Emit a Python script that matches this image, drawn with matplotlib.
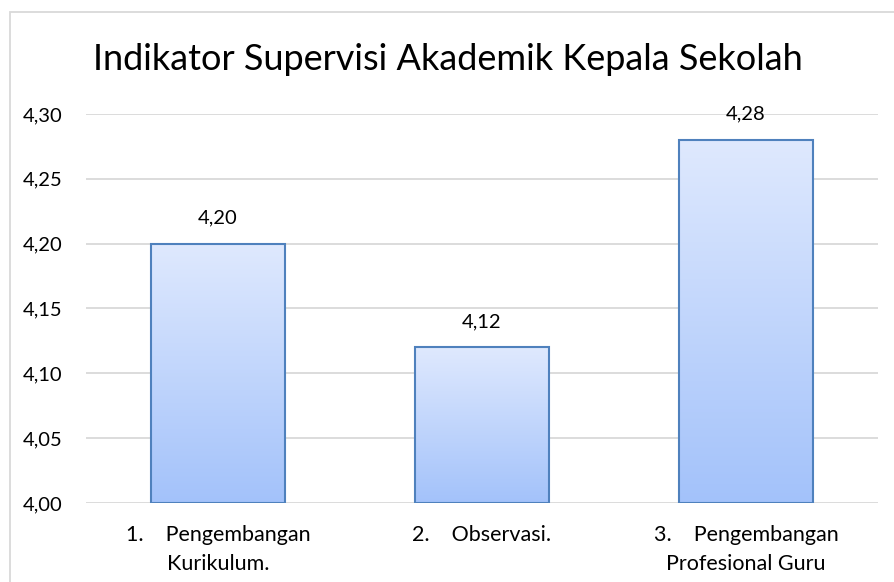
import matplotlib
matplotlib.use("Agg")
import matplotlib.pyplot as plt
import numpy as np
from matplotlib.patches import Rectangle
from matplotlib.colors import LinearSegmentedColormap

plt.rcParams['font.family'] = ['Lato', 'DejaVu Sans']

title = "Indikator Supervisi Akademik Kepala Sekolah"
categories = ["1.    Pengembangan\nKurikulum.", "2.    Observasi.", "3.    Pengembangan\nProfesional Guru"]
values = [4.20, 4.12, 4.28]
yticks = [4.00, 4.05, 4.10, 4.15, 4.20, 4.25, 4.30]

def fmt(v):
    return f"{v:.2f}".replace(".", ",")

fig = plt.figure(figsize=(8.95, 5.82), dpi=100)
ax = fig.add_axes([86/895, 1-503/582, (878-86)/895, (503-114)/582])

ymin, ymax = 4.00, 4.30
ax.set_xlim(-0.5, len(categories)-0.5)
ax.set_ylim(ymin, ymax)

for y in yticks:
    ax.axhline(y, color='#d9d9d9', lw=1.3, zorder=0)

cmap = LinearSegmentedColormap.from_list('g', ['#a3c2fa', '#dfe9fe'])
grad = np.linspace(0, 1, 256).reshape(-1, 1)
w = 0.505
x = np.arange(len(categories))
for xi, v in zip(x, values):
    # soft shadow
    for k, a in [(0.006, 0.10), (0.004, 0.12), (0.002, 0.15)]:
        ax.add_patch(Rectangle((xi - w/2 + k, ymin), w, v - ymin - k*0.35, facecolor='#808080',
                               edgecolor='none', alpha=a, zorder=1))
    ax.imshow(grad, extent=(xi - w/2, xi + w/2, ymin, v), origin='lower', cmap=cmap,
              aspect='auto', zorder=2, interpolation='bicubic')
    ax.add_patch(Rectangle((xi - w/2, ymin), w, v - ymin, facecolor='none',
                           edgecolor='#4f81bd', lw=1.5, zorder=3))
    ax.text(xi, v + 0.020, fmt(v), ha='center', va='center', fontsize=14.5, color='#000000', zorder=4)

ax.set_xlim(-0.5, len(categories)-0.5)
ax.set_ylim(ymin, ymax)
ax.set_yticks(yticks)
ax.set_yticklabels([fmt(t) for t in yticks], fontsize=14.5)
ax.set_xticks(x)
ax.set_xticklabels(categories, fontsize=15.5, linespacing=1.55)
ax.tick_params(axis='both', length=0)
ax.tick_params(axis='y', pad=17)
ax.tick_params(axis='x', pad=16)
for s in ax.spines.values():
    s.set_visible(False)

fig.text(0.5, 1-60/582, title, ha='center', va='center', fontsize=26)

fig.patches.append(Rectangle((10/895, -0.05), 1.1, 1-12/582+0.05, transform=fig.transFigure,
                             facecolor='none', edgecolor='#d9d9d9', lw=1.3, figure=fig))

fig.savefig('out.png', dpi=100)
